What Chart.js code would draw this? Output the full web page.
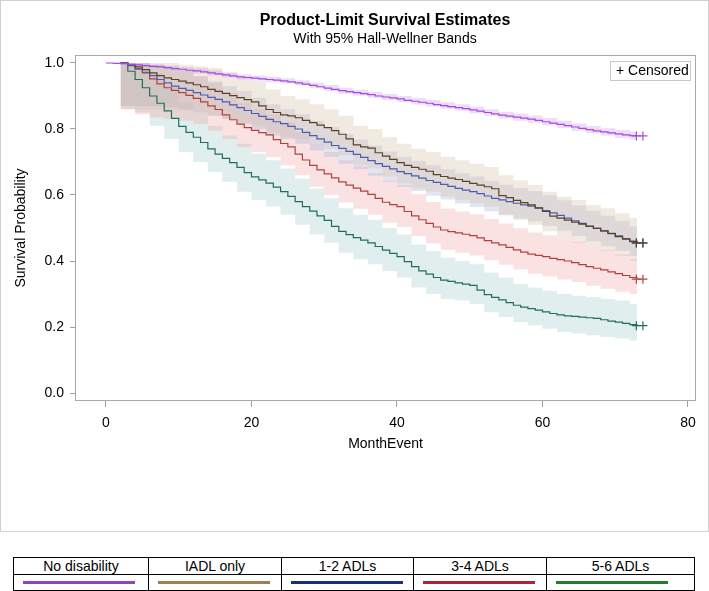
<!DOCTYPE html>
<html>
<head>
<meta charset="utf-8">
<script src="https://cdn.jsdelivr.net/npm/chart.js@4.4.1/dist/chart.umd.min.js"></script>
<style>
  body { margin: 0; background: #fff; font-family: 'Liberation Sans', Arial, sans-serif; }
  #wrap { position: absolute; left: 0; top: 0; width: 709px; height: 532px; }
  #legendTbl { position: absolute; left: 13px; top: 557px; width: 681px; border-collapse: collapse; font-size: 14px; color: #000; table-layout: fixed; }
  #legendTbl td { border: 1px solid #000; text-align: center; padding: 0; }
  #legendTbl tr.names td { height: 16px; line-height: 16px; }
  #legendTbl tr.lines td { height: 15px; text-align: left; }
  .swatch { display: block; margin-left: 9px; width: 112px; height: 3px; }
</style>
</head>
<body>
<div id="wrap"><canvas id="kmChart" width="709" height="532"></canvas></div>
<table id="legendTbl">
  <colgroup><col style="width:135px"><col style="width:133px"><col style="width:132px"><col style="width:133px"><col style="width:148px"></colgroup>
  <tr class="names" id="legendNames"></tr>
  <tr class="lines" id="legendLines"></tr>
</table>
<script>
// groups
var groupNames = ["No disability", "IADL only", "1-2 ADLs", "3-4 ADLs", "5-6 ADLs"];

// survival estimates, one value per month
var lineMonths = [0, 1, 2, 3, 4, 5, 6, 7, 8, 9, 10, 11, 12, 13, 14, 15, 16, 17, 18, 19,
    20, 21, 22, 23, 24, 25, 26, 27, 28, 29, 30, 31, 32, 33, 34, 35, 36, 37, 38, 39,
    40, 41, 42, 43, 44, 45, 46, 47, 48, 49, 50, 51, 52, 53, 54, 55, 56, 57, 58, 59,
    60, 61, 62, 63, 64, 65, 66, 67, 68, 69, 70, 71, 72, 73];
var noDisability = [1.000, 0.999, 0.998, 0.996, 0.994, 0.992, 0.990, 0.988, 0.986, 0.983,
    0.981, 0.978, 0.976, 0.973, 0.970, 0.967, 0.964, 0.961, 0.958, 0.956,
    0.954, 0.952, 0.950, 0.948, 0.946, 0.943, 0.940, 0.936, 0.932, 0.928,
    0.924, 0.920, 0.916, 0.913, 0.910, 0.907, 0.904, 0.900, 0.897, 0.894,
    0.891, 0.887, 0.884, 0.881, 0.878, 0.874, 0.871, 0.868, 0.865, 0.862,
    0.858, 0.854, 0.850, 0.846, 0.842, 0.839, 0.836, 0.833, 0.830, 0.826,
    0.822, 0.818, 0.814, 0.810, 0.806, 0.802, 0.798, 0.794, 0.791, 0.788,
    0.785, 0.782, 0.780, 0.779];
var iadlOnly = [null, null, 1.000, 0.995, 0.988, 0.980, 0.970, 0.962, 0.955, 0.950,
    0.945, 0.940, 0.934, 0.928, 0.920, 0.914, 0.908, 0.901, 0.895, 0.889,
    0.882, 0.870, 0.859, 0.850, 0.843, 0.840, 0.834, 0.826, 0.819, 0.812,
    0.804, 0.795, 0.784, 0.770, 0.752, 0.746, 0.742, 0.728, 0.718, 0.708,
    0.698, 0.690, 0.684, 0.678, 0.672, 0.662, 0.656, 0.651, 0.647, 0.641,
    0.635, 0.630, 0.625, 0.619, 0.598, 0.592, 0.584, 0.577, 0.570, 0.561,
    0.550, 0.536, 0.530, 0.524, 0.518, 0.512, 0.505, 0.499, 0.491, 0.483,
    0.474, 0.466, 0.459, 0.455];
var adl12 = [null, null, 1.000, 0.992, 0.982, 0.972, 0.962, 0.950, 0.940, 0.930,
    0.923, 0.917, 0.910, 0.903, 0.896, 0.890, 0.882, 0.873, 0.865, 0.856,
    0.847, 0.838, 0.829, 0.822, 0.816, 0.808, 0.800, 0.790, 0.780, 0.770,
    0.760, 0.750, 0.741, 0.732, 0.723, 0.714, 0.704, 0.695, 0.687, 0.679,
    0.671, 0.665, 0.658, 0.651, 0.644, 0.638, 0.632, 0.626, 0.620, 0.615,
    0.610, 0.604, 0.597, 0.590, 0.585, 0.580, 0.575, 0.570, 0.566, 0.560,
    0.553, 0.546, 0.538, 0.530, 0.522, 0.514, 0.506, 0.499, 0.491, 0.484,
    0.476, 0.468, 0.460, 0.454];
var adl34 = [null, null, 1.000, 0.994, 0.982, 0.970, 0.952, 0.937, 0.925, 0.917,
    0.910, 0.902, 0.893, 0.882, 0.870, 0.859, 0.843, 0.828, 0.815, 0.804,
    0.796, 0.789, 0.782, 0.768, 0.756, 0.746, 0.724, 0.706, 0.690, 0.676,
    0.664, 0.652, 0.640, 0.630, 0.621, 0.612, 0.602, 0.590, 0.578, 0.571,
    0.565, 0.550, 0.537, 0.525, 0.514, 0.503, 0.494, 0.489, 0.485, 0.481,
    0.477, 0.470, 0.462, 0.455, 0.449, 0.441, 0.434, 0.427, 0.421, 0.417,
    0.413, 0.408, 0.404, 0.400, 0.395, 0.389, 0.383, 0.378, 0.373, 0.367,
    0.362, 0.356, 0.350, 0.345];
var adl56 = [null, null, 1.000, 0.975, 0.950, 0.925, 0.900, 0.878, 0.855, 0.832,
    0.808, 0.790, 0.775, 0.759, 0.740, 0.724, 0.711, 0.698, 0.684, 0.668,
    0.655, 0.646, 0.636, 0.624, 0.610, 0.596, 0.580, 0.565, 0.551, 0.537,
    0.523, 0.505, 0.490, 0.480, 0.471, 0.463, 0.455, 0.444, 0.433, 0.423,
    0.413, 0.398, 0.383, 0.370, 0.360, 0.350, 0.342, 0.338, 0.334, 0.330,
    0.326, 0.312, 0.298, 0.290, 0.282, 0.274, 0.266, 0.260, 0.256, 0.251,
    0.246, 0.241, 0.237, 0.234, 0.232, 0.230, 0.228, 0.226, 0.222, 0.218,
    0.215, 0.211, 0.207, 0.204];

// 95% Hall-Wellner bands
var bandMonths = [0, 2, 4, 6, 8, 10, 12, 14, 16, 18, 20, 22, 24, 26, 28, 30, 32, 34, 36,
    38, 40, 42, 44, 46, 48, 50, 52, 54, 56, 58, 60, 62, 64, 66, 68, 70, 72, 73];
var noDisLow = [1.000, 0.995, 0.990, 0.985, 0.980, 0.974, 0.968, 0.962, 0.956, 0.950, 0.946, 0.942, 0.938,
    0.932, 0.924, 0.915, 0.907, 0.901, 0.895, 0.888, 0.882, 0.874, 0.868, 0.861, 0.855, 0.848,
    0.840, 0.832, 0.825, 0.819, 0.811, 0.803, 0.795, 0.787, 0.780, 0.773, 0.768, 0.767];
var noDisHigh = [1.000, 1.000, 0.998, 0.995, 0.992, 0.988, 0.984, 0.978, 0.972, 0.966, 0.962, 0.958, 0.954,
    0.948, 0.940, 0.933, 0.925, 0.919, 0.913, 0.906, 0.900, 0.894, 0.888, 0.881, 0.875, 0.868,
    0.860, 0.852, 0.847, 0.841, 0.833, 0.825, 0.817, 0.809, 0.802, 0.797, 0.792, 0.791];
var iadlLow = [null, 0.870, 0.860, 0.860, 0.855, 0.855, 0.850, 0.840, 0.830, 0.820, 0.810, 0.790, 0.775,
    0.770, 0.755, 0.740, 0.720, 0.690, 0.680, 0.655, 0.635, 0.620, 0.610, 0.595, 0.585, 0.575,
    0.565, 0.540, 0.525, 0.510, 0.490, 0.470, 0.455, 0.445, 0.430, 0.415, 0.400, 0.400];
var iadlHigh = [null, 1.000, 1.000, 1.000, 1.000, 0.995, 0.990, 0.985, 0.970, 0.960, 0.945, 0.920, 0.900,
    0.890, 0.875, 0.860, 0.840, 0.810, 0.800, 0.775, 0.755, 0.740, 0.730, 0.715, 0.705, 0.695,
    0.685, 0.660, 0.645, 0.630, 0.610, 0.595, 0.585, 0.570, 0.560, 0.545, 0.530, 0.530];
var adl12Low = [null, 0.870, 0.870, 0.870, 0.865, 0.860, 0.850, 0.840, 0.830, 0.815, 0.800, 0.780, 0.770,
    0.755, 0.735, 0.715, 0.695, 0.678, 0.658, 0.640, 0.625, 0.612, 0.598, 0.586, 0.574, 0.564,
    0.551, 0.539, 0.529, 0.520, 0.507, 0.492, 0.476, 0.460, 0.445, 0.430, 0.415, 0.410];
var adl12High = [null, 1.000, 1.000, 0.995, 0.990, 0.975, 0.960, 0.945, 0.930, 0.915, 0.895, 0.875, 0.860,
    0.845, 0.825, 0.805, 0.785, 0.768, 0.750, 0.732, 0.716, 0.703, 0.690, 0.678, 0.666, 0.656,
    0.643, 0.631, 0.621, 0.612, 0.599, 0.584, 0.568, 0.552, 0.537, 0.522, 0.505, 0.500];
var adl34Low = [null, 0.860, 0.845, 0.835, 0.830, 0.825, 0.815, 0.795, 0.770, 0.745, 0.730, 0.715, 0.690,
    0.660, 0.625, 0.600, 0.577, 0.558, 0.540, 0.516, 0.503, 0.476, 0.453, 0.434, 0.425, 0.417,
    0.402, 0.389, 0.374, 0.361, 0.353, 0.344, 0.336, 0.325, 0.316, 0.307, 0.300, 0.298];
var adl34High = [null, 1.000, 1.000, 0.995, 0.985, 0.975, 0.960, 0.940, 0.910, 0.880, 0.860, 0.845, 0.820,
    0.790, 0.755, 0.730, 0.705, 0.686, 0.667, 0.643, 0.630, 0.602, 0.579, 0.559, 0.550, 0.542,
    0.527, 0.514, 0.499, 0.486, 0.478, 0.469, 0.458, 0.445, 0.434, 0.421, 0.407, 0.402];
var adl56Low = [null, 0.860, 0.850, 0.810, 0.770, 0.730, 0.700, 0.670, 0.640, 0.610, 0.585, 0.565, 0.540,
    0.510, 0.480, 0.455, 0.425, 0.405, 0.390, 0.370, 0.350, 0.320, 0.300, 0.285, 0.280, 0.270,
    0.245, 0.230, 0.215, 0.205, 0.195, 0.185, 0.180, 0.175, 0.170, 0.165, 0.158, 0.156];
var adl56High = [null, 1.000, 0.995, 0.970, 0.930, 0.880, 0.850, 0.810, 0.780, 0.755, 0.725, 0.705, 0.680,
    0.650, 0.620, 0.590, 0.560, 0.540, 0.525, 0.500, 0.480, 0.450, 0.430, 0.410, 0.400, 0.390,
    0.365, 0.350, 0.330, 0.320, 0.310, 0.300, 0.295, 0.290, 0.285, 0.280, 0.270, 0.268];

// censored marks at the end of follow-up
var censorMonths = [72.9, 73.8];
var censorValues = [0.779, 0.455, 0.454, 0.345, 0.204];

// axis ticks
var xTicks = [0, 20, 40, 60, 80];
var yTicks = [0.0, 0.2, 0.4, 0.6, 0.8, 1.0];

var lineSeries = [noDisability, iadlOnly, adl12, adl34, adl56];
var bandLow = [noDisLow, iadlLow, adl12Low, adl34Low, adl56Low];
var bandHigh = [noDisHigh, iadlHigh, adl12High, adl34High, adl56High];

var lineColors = ["#A24BDE", "#5B4322", "#4B5DAE", "#B2413E", "#1F6F5E"];
var bandColors = ["rgba(200,140,240,0.30)", "rgba(215,195,165,0.35)", "rgba(160,170,215,0.30)",
    "rgba(240,160,160,0.30)", "rgba(175,210,210,0.38)"];
var legendColors = ["#8E44C4", "#A67C52", "#1B2F7E", "#B3203C", "#1F7F2A"];

function toPoints(xs, ys) {
    return xs.map(function (x, i) { return { x: x, y: ys[i] }; });
}

var datasets = [];
// bands underneath
for (var g = 0; g < groupNames.length; g++) {
    var lowIndex = datasets.length;
    datasets.push({
        label: groupNames[g] + " lower",
        data: toPoints(bandMonths, bandLow[g]),
        stepped: true, borderWidth: 0, pointRadius: 0, fill: false, order: 5
    });
    datasets.push({
        label: groupNames[g] + " upper",
        data: toPoints(bandMonths, bandHigh[g]),
        stepped: true, borderWidth: 0, pointRadius: 0,
        fill: { target: lowIndex }, backgroundColor: bandColors[g], order: 5
    });
}
// survival lines
for (var g = 0; g < groupNames.length; g++) {
    datasets.push({
        label: groupNames[g],
        data: toPoints(lineMonths, lineSeries[g]),
        stepped: true, borderColor: lineColors[g], borderWidth: 1.2,
        pointRadius: 0, fill: false, order: 1
    });
    datasets.push({
        label: groupNames[g] + " censored",
        data: censorMonths.map(function (m) { return { x: m, y: censorValues[g] }; }),
        showLine: false, pointStyle: 'cross', pointRadius: 4.5, borderColor: lineColors[g],
        borderWidth: 1.2, order: 0
    });
}

var framePlugin = {
    id: 'framePlugin',
    beforeDraw: function (chart) {
        var ctx = chart.ctx;
        ctx.save();
        ctx.fillStyle = '#fff';
        ctx.fillRect(0, 0, chart.width, chart.height);
        ctx.strokeStyle = '#d0d0d0';
        ctx.lineWidth = 1;
        ctx.strokeRect(0.5, 0.5, chart.width - 1, chart.height - 1);
        ctx.fillStyle = '#000';
        ctx.textAlign = 'center';
        ctx.textBaseline = 'middle';
        ctx.font = "bold 16px 'Liberation Sans', Arial, sans-serif";
        ctx.fillText("Product-Limit Survival Estimates", 385, 21);
        ctx.font = "14px 'Liberation Sans', Arial, sans-serif";
        ctx.fillText("With 95% Hall-Wellner Bands", 385, 39);
        ctx.restore();
    },
    afterDraw: function (chart) {
        var ctx = chart.ctx, a = chart.chartArea;
        ctx.save();
        ctx.strokeStyle = '#a8a8a8';
        ctx.lineWidth = 1;
        ctx.strokeRect(Math.round(a.left) + 0.5, Math.round(a.top) + 0.5,
            Math.round(a.right - a.left) - 1, Math.round(a.bottom - a.top) - 1);
        // censored key
        ctx.strokeStyle = '#c8c8c8';
        ctx.strokeRect(610.5, 61.5, 80, 19);
        ctx.fillStyle = '#000';
        ctx.font = "14px 'Liberation Sans', Arial, sans-serif";
        ctx.textAlign = 'left';
        ctx.textBaseline = 'middle';
        ctx.fillText("+ Censored", 616, 71.5);
        ctx.restore();
    }
};

Chart.defaults.font.family = "'Liberation Sans', Arial, sans-serif";
Chart.defaults.color = '#000';

var myChart = new Chart(document.getElementById("kmChart"), {
    type: 'line',
    data: { datasets: datasets },
    options: {
        responsive: false,
        animation: false,
        events: [],
        layout: { padding: { left: 0, top: 55, right: 13, bottom: 77 } },
        plugins: {
            legend: { display: false },
            tooltip: { enabled: false },
            title: { display: false }
        },
        scales: {
            x: {
                type: 'linear', min: -4.26, max: 81.1,
                afterBuildTicks: function (s) { s.ticks = xTicks.map(function (v) { return { value: v }; }); },
                grid: { drawOnChartArea: false, drawTicks: true, tickLength: 6, color: '#a0a0a0' },
                border: { display: false },
                ticks: { font: { size: 14 }, color: '#000', padding: 8, maxRotation: 0, autoSkip: false },
                title: { display: true, text: 'MonthEvent', font: { size: 14 }, color: '#000', padding: { top: 0, bottom: 2 } },
                afterFit: function (s) { s.height = 54; }
            },
            y: {
                type: 'linear', min: -0.0242, max: 1.0242,
                afterBuildTicks: function (s) { s.ticks = yTicks.map(function (v) { return { value: v }; }); },
                grid: { drawOnChartArea: false, drawTicks: true, tickLength: 5, color: '#a0a0a0' },
                border: { display: false },
                ticks: {
                    font: { size: 14 }, color: '#000', padding: 6,
                    callback: function (v) { return Number(v).toFixed(1); }
                },
                title: { display: true, text: 'Survival Probability', font: { size: 14 }, color: '#000', padding: { top: 13, bottom: 0 } },
                afterFit: function (s) { s.width = 75; }
            }
        }
    },
    plugins: [framePlugin]
});

// legend table under the chart
var namesRow = document.getElementById("legendNames");
var linesRow = document.getElementById("legendLines");
groupNames.forEach(function (name, i) {
    var td = document.createElement("td");
    td.textContent = name;
    namesRow.appendChild(td);
    var td2 = document.createElement("td");
    var sw = document.createElement("span");
    sw.className = "swatch";
    sw.style.background = legendColors[i];
    td2.appendChild(sw);
    linesRow.appendChild(td2);
});
</script>
</body>
</html>
